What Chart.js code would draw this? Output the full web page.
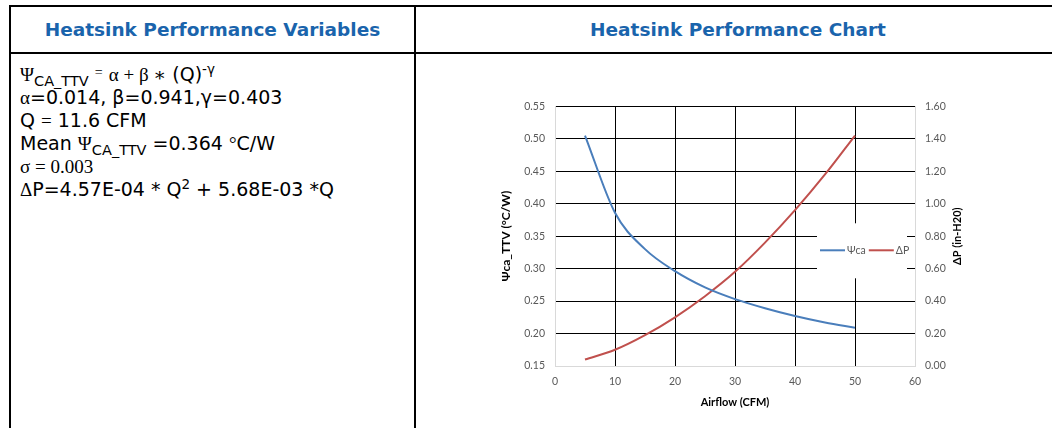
<!DOCTYPE html>
<html>
<head>
<meta charset="utf-8">
<script src="https://cdn.jsdelivr.net/npm/chart.js@4"></script>
<style>
  html, body { margin: 0; padding: 0; background: #fff; width: 1052px; height: 428px; overflow: hidden; }
  .line { position: absolute; background: #000; }
  .head { position: absolute; top: 7px; height: 45px; text-align: center;
          font: bold 18.5px "DejaVu Sans", Verdana, sans-serif; line-height: 45px; color: #1a64ac; }
  #vars { position: absolute; left: 20px; top: 63px; font: 19px "DejaVu Sans", Verdana, sans-serif; color: #000; }
  #vars div { height: 23px; line-height: 23px; white-space: nowrap; }
  .serif { font-family: "Liberation Serif", "DejaVu Serif", serif; }
  .sub { font-size: 14.5px; position: relative; top: 5px; line-height: 0; }
  .sup { font-size: 13.5px; position: relative; top: -7px; line-height: 0; }
  #chartBox { position: absolute; left: 470px; top: 90px; width: 510px; height: 330px; }
</style>
</head>
<body>
<!-- moldura da tabela -->
<div class="line" style="left:9px; top:5px; width:1060px; height:2px;"></div>
<div class="line" style="left:9px; top:52px; width:1060px; height:2px;"></div>
<div class="line" style="left:9px; top:5px; width:2px; height:430px;"></div>
<div class="line" style="left:414px; top:5px; width:2px; height:430px;"></div>

<div class="head" style="left:11px; width:403px;">Heatsink Performance Variables</div>
<div class="head" style="left:416px; width:644px;">Heatsink Performance Chart</div>

<div id="vars">
  <div><span class="serif">Ψ</span><span class="sub">CA_TTV</span> <span class="serif" style="font-size:14px;position:relative;top:-4px;">=</span> <span class="serif">α + β ∗</span> (Q)<span class="sup">-γ</span></div>
  <div><span class="serif">α</span>=0.014, β=0.941,γ=0.403</div>
  <div>Q <span class="serif">=</span> 11.6 CFM</div>
  <div>Mean <span class="serif">Ψ</span><span class="sub">CA_TTV</span> =0.364 <span class="serif">°</span>C/W</div>
  <div class="serif">σ = 0.003</div>
  <div><span class="serif">Δ</span>P=4.57E-04 * Q<span class="sup">2</span> + 5.68E-03 *Q</div>
</div>

<div id="chartBox"><canvas id="hsChart"></canvas></div>

<script>
// valores
const airflow = [5, 10, 15, 20, 25, 30, 35, 40, 45, 50];
const psiCa = [0.505, 0.386, 0.330, 0.296, 0.271, 0.253, 0.239, 0.227, 0.217, 0.209];
const deltaP = [0.04, 0.10, 0.19, 0.30, 0.43, 0.58, 0.76, 0.96, 1.18, 1.42];

const xTicks = [0, 10, 20, 30, 40, 50, 60];
const psiTicks = [0.15, 0.20, 0.25, 0.30, 0.35, 0.40, 0.45, 0.50, 0.55];
const dpTicks = [0.00, 0.20, 0.40, 0.60, 0.80, 1.00, 1.20, 1.40, 1.60];

const seriesNames = ['Ψca', 'ΔP'];
const seriesColors = ['#4a7ebb', '#c0504d'];

const tickFont = { family: 'Lato, "Open Sans", sans-serif', size: 10.5 };
const titleFont = { family: 'Lato, "Open Sans", sans-serif', size: 11, weight: 'bold' };
const tickColor = '#595959';
const axisGray = '#d9d9d9';

// legenda dentro da área do gráfico (fundo branco por cima da grade)
const innerLegend = {
    id: 'innerLegend',
    beforeDatasetsDraw(chart) {
        const ctx = chart.ctx;
        const a = chart.chartArea;
        const x0 = a.right - 98, y0 = a.top + 117;
        ctx.save();
        ctx.fillStyle = '#fff';
        ctx.fillRect(x0, y0, 90, 55);
        ctx.font = '10.5px Lato, "Open Sans", sans-serif';
        ctx.textBaseline = 'middle';
        const ly = y0 + 27;
        let lx = x0 + 3;
        chart.data.datasets.forEach(ds => {
            ctx.strokeStyle = ds.borderColor;
            ctx.lineWidth = 2;
            ctx.beginPath();
            ctx.moveTo(lx, ly);
            ctx.lineTo(lx + 25, ly);
            ctx.stroke();
            ctx.fillStyle = tickColor;
            ctx.fillText(ds.label, lx + 27, ly);
            lx += 27 + ctx.measureText(ds.label).width + 3;
        });
        ctx.restore();
    },
    afterDraw(chart) {
        // título do eixo direito, lido de baixo para cima
        const ctx = chart.ctx;
        const a = chart.chartArea;
        ctx.save();
        ctx.translate(a.right + 42, (a.top + a.bottom) / 2);
        ctx.rotate(-Math.PI / 2);
        ctx.font = 'bold 11px Lato, "Open Sans", sans-serif';
        ctx.fillStyle = '#000';
        ctx.textAlign = 'center';
        ctx.textBaseline = 'middle';
        ctx.fillText('ΔP (in-H20)', 0, 0);
        ctx.restore();
    }
};

new Chart(document.getElementById('hsChart'), {
    type: 'line',
    data: {
        datasets: [{
            label: seriesNames[0],
            data: airflow.map((q, i) => ({ x: q, y: psiCa[i] })),
            borderColor: seriesColors[0],
            borderWidth: 2,
            pointRadius: 0,
            cubicInterpolationMode: 'monotone',
            yAxisID: 'y'
        }, {
            label: seriesNames[1],
            data: airflow.map((q, i) => ({ x: q, y: deltaP[i] })),
            borderColor: seriesColors[1],
            borderWidth: 2,
            pointRadius: 0,
            cubicInterpolationMode: 'monotone',
            yAxisID: 'y1'
        }]
    },
    options: {
        responsive: true,
        maintainAspectRatio: false,
        animation: false,
        layout: { padding: { top: 15, left: 0, right: 0, bottom: 0 } },
        plugins: {
            legend: { display: false },
            tooltip: { enabled: false }
        },
        scales: {
            x: {
                type: 'linear',
                min: 0,
                max: 60,
                afterBuildTicks: s => { s.ticks = xTicks.map(v => ({ value: v })); },
                afterFit: s => { s.height = 54; },
                grid: {
                    color: c => (c.tick && (c.tick.value === 0 || c.tick.value === 60)) ? 'rgba(0,0,0,0)' : '#000',
                    drawTicks: false
                },
                border: { color: axisGray },
                ticks: { padding: 9, font: tickFont, color: tickColor },
                title: { display: true, text: 'Airflow (CFM)', font: titleFont, color: '#000', padding: { top: 0, bottom: 11 } }
            },
            y: {
                position: 'left',
                min: 0.15,
                max: 0.55,
                afterBuildTicks: s => { s.ticks = psiTicks.map(v => ({ value: v })); },
                afterFit: s => { s.width = 85; },
                grid: {
                    color: c => (c.tick && c.tick.value === 0.15) ? 'rgba(0,0,0,0)' : '#000',
                    drawTicks: false
                },
                border: { color: axisGray },
                ticks: { padding: 10, font: tickFont, color: tickColor, callback: v => v.toFixed(2) },
                title: { display: true, text: 'Ψca_TTV (°C/W)', font: { ...titleFont, size: 12 }, color: '#000', padding: { top: 29, bottom: 0 } }
            },
            y1: {
                position: 'right',
                min: 0,
                max: 1.6,
                afterBuildTicks: s => { s.ticks = dpTicks.map(v => ({ value: v })); },
                afterFit: s => { s.width = 65; },
                grid: { display: false, drawTicks: false },
                border: { color: axisGray },
                ticks: { padding: 10, font: tickFont, color: tickColor, callback: v => v.toFixed(2) }
            }
        }
    },
    plugins: [innerLegend]
});
</script>
</body>
</html>
